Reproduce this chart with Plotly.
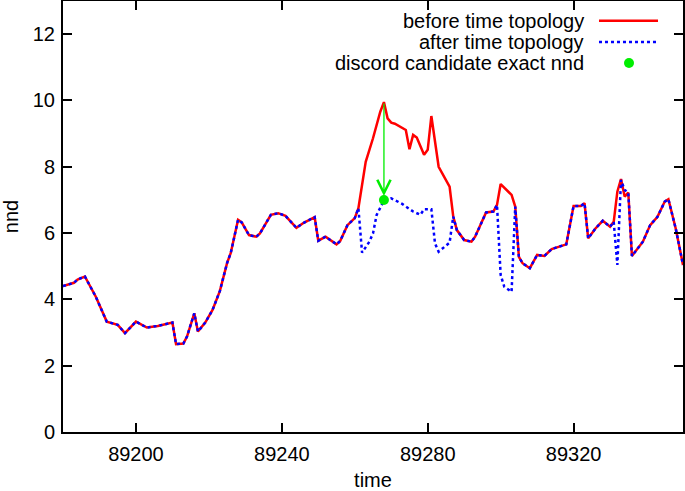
import plotly.graph_objects as go

# nnd per time step, before the time topology is applied (vertices)
before_time = [89180, 89181, 89182, 89183, 89184, 89186, 89189, 89192, 89195, 89197,
               89200, 89203, 89206, 89209, 89210, 89211, 89213, 89214, 89216, 89217,
               89219, 89221, 89223, 89225, 89226, 89228, 89229, 89231, 89233, 89234,
               89237, 89239, 89241, 89244, 89246, 89249, 89250, 89252, 89253, 89255,
               89256, 89258, 89260, 89261, 89263, 89265, 89267, 89268, 89269, 89270,
               89271, 89274, 89275, 89276, 89277, 89279, 89280, 89281, 89283, 89285,
               89286, 89287, 89288, 89290, 89292, 89293, 89296, 89298, 89299, 89300,
               89303, 89304, 89305, 89306, 89308, 89310, 89312, 89314, 89316, 89318,
               89320, 89322, 89323, 89324, 89326, 89328, 89330, 89331, 89332, 89333,
               89334, 89335, 89336, 89339, 89341, 89343, 89345, 89346, 89348, 89350]
before_nnd = [4.40, 4.44, 4.47, 4.50, 4.60, 4.69, 4.08, 3.33, 3.23, 2.98,
              3.33, 3.15, 3.20, 3.28, 3.30, 2.65, 2.67, 2.88, 3.58, 3.03,
              3.30, 3.68, 4.25, 5.10, 5.40, 6.40, 6.32, 5.94, 5.89, 5.99,
              6.55, 6.60, 6.52, 6.16, 6.31, 6.48, 5.77, 5.89, 5.81, 5.66,
              5.76, 6.24, 6.45, 6.75, 8.15, 8.86, 9.66, 9.95, 9.46, 9.33,
              9.30, 9.11, 8.53, 8.96, 8.88, 8.36, 8.51, 9.53, 8.00, 7.60,
              7.40, 6.50, 6.09, 5.79, 5.74, 5.89, 6.62, 6.65, 6.85, 7.48,
              7.15, 6.80, 5.28, 5.09, 4.94, 5.34, 5.31, 5.52, 5.59, 5.66,
              6.82, 6.82, 6.90, 5.84, 6.14, 6.37, 6.19, 6.34, 7.25, 7.63,
              7.10, 7.22, 5.31, 5.74, 6.24, 6.49, 6.95, 7.02, 6.14, 5.04]

# stretches where the "after" curve departs from the "before" one
after_windows = [(89261, 89287), (89299, 89304), (89331, 89336)]
after_diff_time = [89262, 89264, 89265, 89266, 89268, 89270, 89273, 89276, 89278, 89279,
                   89281, 89282, 89283, 89285, 89286,
                   89300, 89301, 89303,
                   89332, 89333, 89334, 89335]
after_diff_nnd = [5.41, 5.74, 5.99, 6.55, 6.98, 7.05, 6.88, 6.65, 6.55, 6.72,
                  6.72, 5.69, 5.44, 5.62, 5.71,
                  4.74, 4.38, 4.23,
                  5.04, 7.60, 7.30, 7.22]

discord_time = 89268
discord_before = 9.95
discord_nnd = 7.0

x_ticks = [89200, 89240, 89280, 89320]
y_ticks = [0, 2, 4, 6, 8, 10, 12]

# build the after series
pts = {}
for t, v in zip(before_time, before_nnd):
    if not any(a < t < b for a, b in after_windows):
        pts[t] = v
for t, v in zip(after_diff_time, after_diff_nnd):
    pts[t] = v
after_time = sorted(pts)
after_nnd = [pts[t] for t in after_time]

FONT = "Liberation Sans, Arial, Helvetica, sans-serif"
RED = "#ff0000"
BLUE = "#0000ff"
GREEN = "#00ee00"

fig = go.Figure()
fig.add_trace(go.Scatter(x=before_time, y=before_nnd, mode="lines",
                         line=dict(color=RED, width=2.5), showlegend=False))
fig.add_trace(go.Scatter(x=after_time, y=after_nnd, mode="lines",
                         line=dict(color=BLUE, width=2.5, dash="dot"), showlegend=False))
fig.add_trace(go.Scatter(x=[discord_time], y=[discord_nnd], mode="markers",
                         marker=dict(color=GREEN, size=10), showlegend=False))

fig.add_annotation(x=discord_time, y=discord_nnd, ax=discord_time, ay=discord_before,
                   xref="x", yref="y", axref="x", ayref="y", text="",
                   showarrow=True, arrowhead=5, arrowsize=2, arrowwidth=1.3,
                   arrowcolor=GREEN, standoff=4)

# gnuplot-style key: text on the left, sample on the right
legend_rows = [("before time topology", 0.954), ("after time topology", 0.905),
               ("discord candidate exact nnd", 0.856)]
for label, yy in legend_rows:
    fig.add_annotation(x=0.8435, y=yy, xref="paper", yref="paper", text=label,
                       showarrow=False, xanchor="right", yanchor="middle",
                       font=dict(family=FONT, size=20, color="black"))
fig.add_shape(type="line", xref="paper", yref="paper", x0=0.8645, x1=0.9597,
              y0=0.954, y1=0.954, line=dict(color=RED, width=2.5))
fig.add_shape(type="line", xref="paper", yref="paper", x0=0.8645, x1=0.9597,
              y0=0.905, y1=0.905, line=dict(color=BLUE, width=2.5, dash="dot"))
fig.add_shape(type="circle", xref="paper", yref="paper", xsizemode="pixel", ysizemode="pixel",
              xanchor=0.9129, yanchor=0.856, x0=-5, x1=5, y0=-5, y1=5,
              fillcolor=GREEN, line=dict(width=0))

axis_common = dict(showgrid=False, zeroline=False, showline=True, linecolor="black",
                   linewidth=2, mirror="ticks", ticks="inside", ticklen=9, tickwidth=1.5,
                   tickcolor="black", automargin=False,
                   tickfont=dict(family=FONT, size=20, color="black"))
fig.update_xaxes(range=[89180, 89350], tickvals=x_ticks, tickformat="d", ticklabelstandoff=3,
                 title=dict(text="time", font=dict(family=FONT, size=20, color="black"),
                            standoff=10), **axis_common)
fig.update_yaxes(range=[0, 13], tickvals=y_ticks, ticklabelstandoff=2,
                 title=dict(text="nnd", font=dict(family=FONT, size=20, color="black"),
                            standoff=12), **axis_common)

fig.update_layout(width=685, height=491, plot_bgcolor="white", paper_bgcolor="white",
                  margin=dict(l=63, r=2, t=1, b=59), font=dict(family=FONT))

# the page body has a default 8px margin; drop it so the figure fills the window
fig.write_html("out.html", config={"displayModeBar": False},
               post_script="document.body.style.margin='0';")
